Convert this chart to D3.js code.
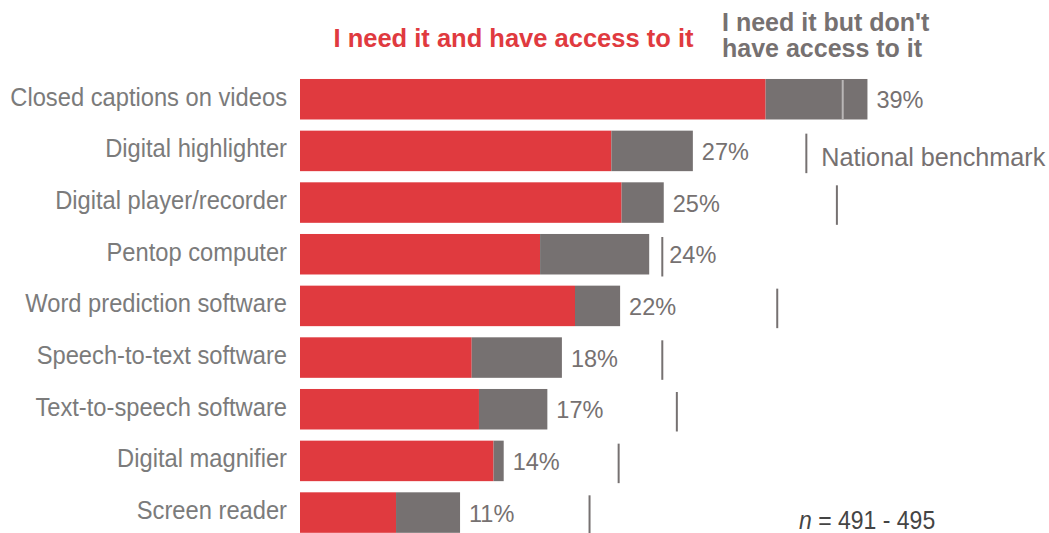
<!DOCTYPE html>
<html>
<head>
<meta charset="utf-8">
<script src="https://cdn.jsdelivr.net/npm/d3@7"></script>
<style>
  html, body { margin: 0; padding: 0; background: #fff; }
  svg { display: block; font-family: "Liberation Sans", Arial, sans-serif; }
</style>
</head>
<body>
<svg id="chart" width="1049" height="533"></svg>
<script>
// Assistive technology: share of students who need each tool
const categories = [
  "Closed captions on videos",
  "Digital highlighter",
  "Digital player/recorder",
  "Pentop computer",
  "Word prediction software",
  "Speech-to-text software",
  "Text-to-speech software",
  "Digital magnifier",
  "Screen reader"
];
// Total who need it (%), as labelled
const needTotal = [39, 27, 25, 24, 22, 18, 17, 14, 11];
// Need it and have access (%)
const haveAccess = [32.0, 21.4, 22.1, 16.5, 18.9, 11.8, 12.3, 13.3, 6.6];
// National benchmark (%)
const benchmark = [37.3, 34.8, 36.9, 24.9, 32.8, 24.9, 25.9, 21.9, 19.9];

const seriesNames = ["I need it and have access to it", "I need it but don't have access to it"];
const sampleNote = "491 - 495";

const RED = "#E03A3F";
const GREY = "#767171";
const LABEL = "#7b7b7b";

const svg = d3.select("#chart");

const x = d3.scaleLinear().domain([0, 40]).range([300, 300 + 40 * 14.55]);
const y = d3.scaleBand()
  .domain(categories)
  .range([73.4, 538.4])
  .paddingInner(0.216)
  .paddingOuter(0.108);

const rows = categories.map((c, i) => ({
  cat: c,
  have: haveAccess[i],
  total: needTotal[i],
  lack: needTotal[i] - haveAccess[i],
  bench: benchmark[i]
}));

// Stacked bars
const g = svg.append("g");
g.selectAll("rect.have").data(rows).join("rect")
  .attr("class", "have")
  .attr("x", x(0))
  .attr("y", d => y(d.cat))
  .attr("width", d => x(d.have) - x(0))
  .attr("height", y.bandwidth())
  .attr("fill", RED);

g.selectAll("rect.lack").data(rows).join("rect")
  .attr("class", "lack")
  .attr("x", d => x(d.have))
  .attr("y", d => y(d.cat))
  .attr("width", d => x(d.total) - x(d.have))
  .attr("height", y.bandwidth())
  .attr("fill", GREY);

// Benchmark markers
g.selectAll("line.bench").data(rows).join("line")
  .attr("class", "bench")
  .attr("x1", d => x(d.bench))
  .attr("x2", d => x(d.bench))
  .attr("y1", d => y(d.cat) + (d.bench < d.total ? 1 : 3))
  .attr("y2", d => y(d.cat) + y.bandwidth() + (d.bench < d.total ? 0 : 2))
  .attr("stroke", d => d.bench < d.total ? "#b9b6b6" : GREY)
  .attr("stroke-width", 2);

// Value labels
g.selectAll("text.val").data(rows).join("text")
  .attr("class", "val")
  .attr("x", d => {
    const end = x(d.total);
    const b = x(d.bench);
    return (b > end && b - end < 16) ? b + 7 : end + 9;
  })
  .attr("y", d => y(d.cat) + y.bandwidth() / 2 + 9)
  .attr("font-size", 23.5)
  .attr("fill", GREY)
  .text(d => d3.format(".0f")(d.total) + "%");

// Category labels (slightly condensed)
g.selectAll("text.cat").data(rows).join("text")
  .attr("class", "cat")
  .attr("transform", d => `translate(287,${y(d.cat) + y.bandwidth() / 2 + 6.5}) scale(0.93,1)`)
  .attr("text-anchor", "end")
  .attr("font-size", 25.5)
  .attr("fill", LABEL)
  .text(d => d.cat);

// Series headers
svg.append("text")
  .attr("x", 333.5).attr("y", 47)
  .attr("font-size", 25.5).attr("font-weight", "bold")
  .attr("fill", RED)
  .text(seriesNames[0]);

const hdr = svg.append("text")
  .attr("font-size", 25).attr("font-weight", "bold")
  .attr("fill", GREY);
hdr.append("tspan").attr("x", 722).attr("y", 30.7).text("I need it but don't");
hdr.append("tspan").attr("x", 722).attr("y", 57.3).text("have access to it");

// Benchmark legend text next to the Digital highlighter marker
svg.append("text")
  .attr("x", x(benchmark[1]) + 15)
  .attr("y", 165.7)
  .attr("font-size", 25.2)
  .attr("fill", GREY)
  .text("National benchmark");

// Sample size note
const note = svg.append("text")
  .attr("transform", "translate(799,529) scale(0.92,1)")
  .attr("font-size", 25)
  .attr("fill", "#444");
note.append("tspan").attr("font-style", "italic").text("n");
note.append("tspan").text(" = " + sampleNote);
</script>
</body>
</html>
